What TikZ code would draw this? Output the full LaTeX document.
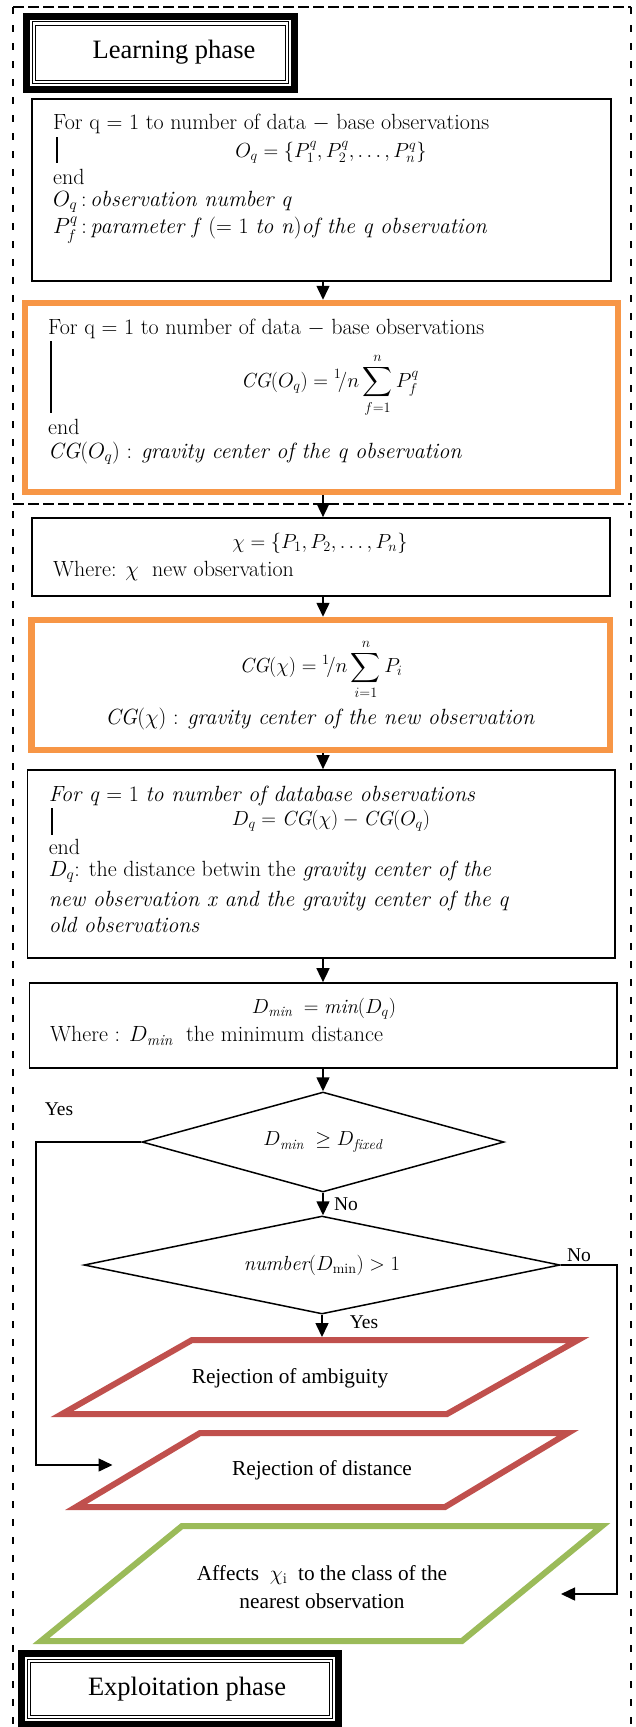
\RequirePackage{fix-cm}
\documentclass[tikz,border=0pt]{standalone}
\usepackage{amsmath}
\usepackage{fontspec}
\newfontfamily\tms{Liberation Serif}
\usetikzlibrary{shapes.geometric,arrows.meta,calc}
\definecolor{orng}{HTML}{F79646}
\definecolor{rred}{HTML}{C0504D}
\definecolor{ggrn}{HTML}{9BBB59}
\begin{document}
\begin{tikzpicture}[x=1pt,y=-1pt,
  tx/.style={font=\fontsize{22}{26}\selectfont, inner sep=0pt, anchor=west},
  fm/.style={font=\fontsize{20.4}{24}\selectfont, inner sep=0pt},
  tm/.style={font=\tms\fontsize{19.5}{23}\selectfont, inner sep=0pt},
  pt/.style={font=\tms\fontsize{21.3}{28}\selectfont, inner sep=0pt, align=center},
  ph/.style={font=\tms\fontsize{26.5}{30}\selectfont, inner sep=0pt},
  frame/.style={draw, line width=7pt, outer sep=0pt, inner sep=0pt},
  thinf/.style={line width=1pt},
  bx/.style={draw, line width=1.7pt, inner sep=0pt},
  ob/.style={draw=orng, line width=6.5pt, inner sep=0pt},
  dia/.style={diamond, draw, line width=1.5pt, inner sep=0pt, font=\fontsize{20.4}{24}\selectfont},
  arr/.style={line width=1.5pt, -{Triangle[length=14pt,width=13pt]}},
  bar/.style={line width=1.5pt},
  dH/.style={line width=2pt, dash pattern=on 11pt off 4pt},
  dV/.style={line width=2pt, dash pattern=on 7pt off 11pt},
  para/.style={line width=6pt, line join=miter}]
\useasboundingbox (0,0) rectangle (636,1727);
\fill[white] (0,0) rectangle (636,1727);

% dashed region outlines
\draw[dH] (13,7) -- (631,7);
\draw[dH] (13,504) -- (631,504);
\draw[dV] (13,7) -- (13,1727);
\draw[dV] (631,7) -- (631,1727);

% Learning phase label
\node[frame, minimum width=268, minimum height=73.3] (learnbox) at (160.3,52.7) {};
\draw[thinf] ([shift={(5.8,5.8)}]learnbox.north west) rectangle ([shift={(-5.8,-5.8)}]learnbox.south east);
\draw[thinf] ([shift={(9,9)}]learnbox.north west) rectangle ([shift={(-9,-9)}]learnbox.south east);
\node[ph] (learn) at (174,52) {Learning phase};

% Box 1
\node[bx, minimum width=579, minimum height=182] (box1) at (321.5,190) {};
\node[tx] (b1l1) at (53,124) {For q = 1 to number of data $-$ base observations};
\draw[bar] (57,137) -- (57,163);
\node[fm] (b1f) at (331,152) {$O_q = \{P_1^q, P_2^q, \dots, P_n^q\}$};
\node[tx] (b1end) at (53,177) {end};
\node[tx] (b1l4) at (53,202) {$O_q$\,:\,\textit{observation number q}};
\node[tx] (b1l5) at (53,230) {$P_f^q$\,:\,\textit{parameter f} (= 1 \textit{to n})\textit{of the q observation}};

% Orange box 1
\node[ob, minimum width=593, minimum height=189] (org1) at (321.5,397.5) {};
\node[tx] (o1l1) at (48,329) {For q = 1 to number of data $-$ base observations};
\draw[bar] (51,341) -- (51,413);
\node[fm] (o1f) at (330,385) {$\displaystyle \mathit{CG}(O_q) = {}^{1}\!/n\sum_{f=1}^{n} P_f^q$};
\node[tx] (o1end) at (48,427) {end};
\node[tx] (o1l3) at (48,453) {$\mathit{CG}(O_q)$ : \textit{gravity center of the q observation}};

% Box 3
\node[bx, minimum width=578, minimum height=78] (box3) at (321,557) {};
\node[fm] (b3f) at (320,543) {$\chi = \{P_1, P_2, \dots, P_n\}$};
\node[tx] (b3l) at (53,571) {Where: $\chi$\ \ new observation};

% Orange box 2
\node[ob, minimum width=578.5, minimum height=130] (org2) at (320.5,685) {};
\node[fm] (o2f) at (321,669) {$\displaystyle \mathit{CG}(\chi) = {}^{1}\!/n\sum_{i=1}^{n} P_i$};
\node[tx, anchor=center] (o2l) at (320,719) {$\mathit{CG}(\chi)$ : \textit{gravity center of the new observation}};

% Box 5
\node[bx, minimum width=587.5, minimum height=188] (box5) at (321.25,864) {};
\node[tx] (b5l1) at (48.6,796) {\textit{For q} = 1 \textit{to number of database observations}};
\draw[bar] (52,808) -- (52,835);
\node[fm] (b5f) at (331,821) {$D_q = \mathit{CG}(\chi) - \mathit{CG}(O_q)$};
\node[tx] (b5end) at (48.6,847) {end};
\node[tx] (b5l2) at (48.6,872) {$D_q$: the distance betwin the \textit{gravity center of the}};
\node[tx] (b5l3) at (48.6,901) {\textit{new observation x and the gravity center of the q}};
\node[tx] (b5l4) at (48.6,925) {\textit{old observations}};

% Box 6
\node[bx, minimum width=587.5, minimum height=85] (box6) at (323.25,1025.5) {};
\node[fm] (b6f) at (324,1009) {$D_{\mathit{min}} \;= \mathit{min}(D_q)$};
\node[tx] (b6l) at (50,1036) {Where : $D_{\mathit{min}}$\ \ the minimum distance};

% Decisions
\node[dia, aspect=3.6, minimum width=362, minimum height=100] (dia1) at (323,1142) {$D_{\mathit{min}}\;\geq D_{\mathit{fixed}}$};
\node[dia, aspect=4.86, minimum width=476, minimum height=98] (dia2) at (322,1265) {$\mathit{number}(D_{\mathrm{min}}) > 1$};

% Output parallelograms
\draw[para, rred] (62,1414) -- (192,1340) -- (578,1340) -- (447,1414) -- cycle;
\node[pt] (rej1) at (290,1378) {Rejection of ambiguity};
\draw[para, rred] (76,1507) -- (200,1433) -- (568,1433) -- (445,1507) -- cycle;
\node[pt] (rej2) at (322,1470) {Rejection of distance};
\draw[para, ggrn] (41,1641) -- (182,1526) -- (602,1526) -- (462,1641) -- cycle;
\node[pt] (aff) at (322,1587) {Affects\ \ $\chi_{\mathrm{i}}$\ \ to the class of the\\nearest observation};

% Exploitation phase label
\node[frame, minimum width=317, minimum height=71] (explbox) at (180.1,1688.7) {};
\draw[thinf] ([shift={(5.8,5.8)}]explbox.north west) rectangle ([shift={(-5.8,-5.8)}]explbox.south east);
\draw[thinf] ([shift={(9,9)}]explbox.north west) rectangle ([shift={(-9,-9)}]explbox.south east);
\node[ph] (expl) at (187,1689) {Exploitation phase};

% connectors
\coordinate (ax) at (323,0);
\coordinate (p1top) at (320,1337);
\coordinate (lcorner) at (36,1142);
\coordinate (rdTip) at (112.5,1465);
\coordinate (rcorner) at (617,1265);
\coordinate (grTip) at (561,1594);
\draw[arr] (box1.south -| ax) -- (org1.north -| ax);
\draw[arr] (org1.south -| ax) -- (box3.north -| ax);
\draw[arr] (box3.south -| ax) -- (org2.north -| ax);
\draw[arr] (org2.south -| ax) -- (box5.north -| ax);
\draw[arr] (box5.south -| ax) -- (box6.north -| ax);
\draw[arr] (box6.south -| ax) -- (dia1.north -| ax);
\draw[arr] (dia1.south) -- (dia1.south |- dia2.north);
\draw[arr] (dia2.south) -- (dia2.south |- p1top);
\draw[arr] (dia1.west) -- (lcorner) |- (rdTip);
\draw[arr] (dia2.east) -- (rcorner) |- (grTip);

% labels
\node[tm] (yes1) at (59,1109) {Yes};
\node[tm] (no1) at (346,1204) {No};
\node[tm] (no2) at (579,1255) {No};
\node[tm] (yes2) at (364,1322) {Yes};
\end{tikzpicture}
\end{document}
